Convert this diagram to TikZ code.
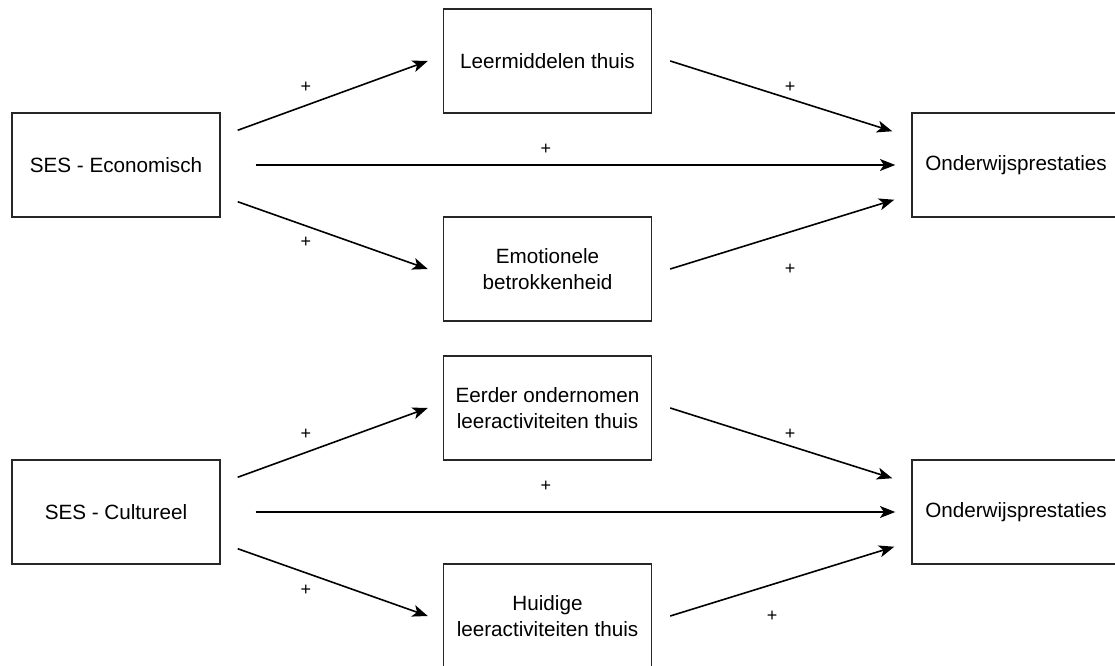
\documentclass[tikz,border=0pt]{standalone}
\usepackage{fontspec}
\setmainfont{Liberation Sans}
\usetikzlibrary{calc,arrows.meta}

\tikzset{
  blok/.style={draw=black!85,line width=1.1pt,minimum width=156pt,minimum height=78pt,align=center,inner sep=2pt,font=\fontsize{15.5}{19}\selectfont},
  pijl/.style={line width=1.2pt,-{Stealth[length=11.5pt,width=9pt,inset=3pt]}},
  plus/.style={inner sep=0pt,font=\fontsize{13.5}{15}\selectfont}
}

\begin{document}
\begin{tikzpicture}[x=0.75pt,y=0.75pt,yscale=-1,xscale=1]
		\clip (0,0) rectangle (1115,666);
		
		% economisch
		\node[blok] (seseco) at (116,165) {SES - Economisch};
		\node[blok] (leermid) at (547.5,61) {Leermiddelen thuis};
		\node[blok] (emotie) at (547.5,269) {Emotionele\\betrokkenheid};
		\node[blok] (ondeco) at (1016,165) {Onderwijsprestaties};
		
		\draw[pijl] ($(seseco.north east)+(17,18)$) -- ($(leermid.west)+(-15,0)$);
		\draw[pijl] ($(seseco.east)+(35,0)$) -- ($(ondeco.west)+(-16,0)$);
		\draw[pijl] ($(seseco.south east)+(17,-16)$) -- ($(emotie.west)+(-15,0)$);
		\draw[pijl] ($(leermid.east)+(18,0)$) -- ($(ondeco.north west)+(-19,19)$);
		\draw[pijl] ($(emotie.east)+(18,0)$) -- ($(ondeco.south west)+(-17,-18)$);
		
		\node[plus] (p1) at (306,87) {+};
		\node[plus] (p2) at (546,149) {+};
		\node[plus] (p3) at (306,242) {+};
		\node[plus] (p4) at (790,87) {+};
		\node[plus] (p5) at (790,269) {+};
		
		% cultureel
		\node[blok] (sescul) at (116,512) {SES - Cultureel};
		\node[blok] (eerder) at (547.5,408) {Eerder ondernomen\\leeractiviteiten thuis};
		\node[blok] (huidig) at (547.5,616) {Huidige\\leeractiviteiten thuis};
		\node[blok] (ondcul) at (1016,512) {Onderwijsprestaties};
		
		\draw[pijl] ($(sescul.north east)+(17,18)$) -- ($(eerder.west)+(-15,0)$);
		\draw[pijl] ($(sescul.east)+(35,0)$) -- ($(ondcul.west)+(-16,0)$);
		\draw[pijl] ($(sescul.south east)+(17,-16)$) -- ($(huidig.west)+(-15,0)$);
		\draw[pijl] ($(eerder.east)+(18,0)$) -- ($(ondcul.north west)+(-19,19)$);
		\draw[pijl] ($(huidig.east)+(18,0)$) -- ($(ondcul.south west)+(-17,-18)$);
		
		\node[plus] (p6) at (306,434) {+};
		\node[plus] (p7) at (546,486) {+};
		\node[plus] (p8) at (306,590) {+};
		\node[plus] (p9) at (790,434) {+};
		\node[plus] (p10) at (772,616) {+};
		\end{tikzpicture}
\end{document}
